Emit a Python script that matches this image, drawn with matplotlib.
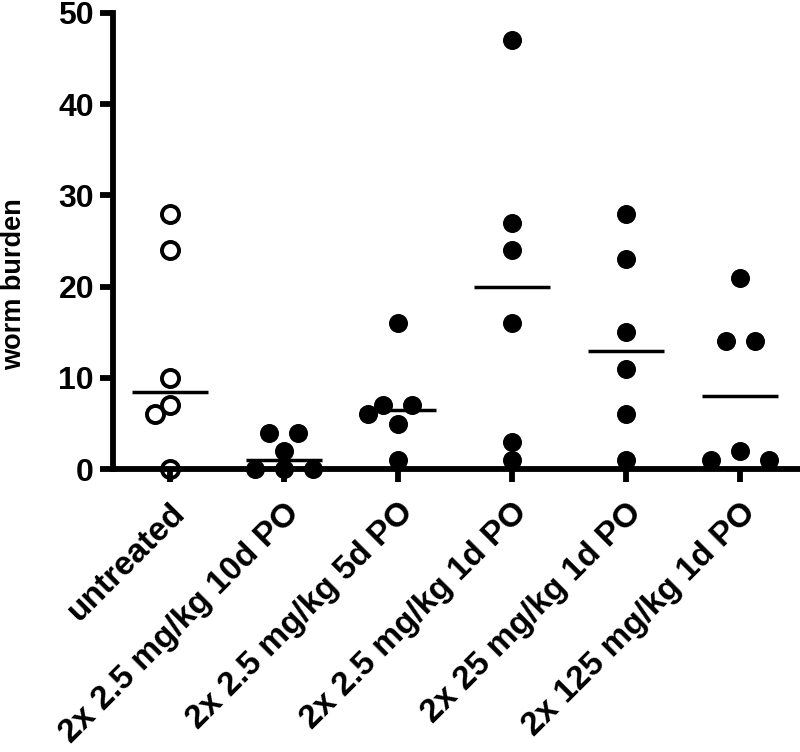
import numpy as np
import matplotlib
matplotlib.use("Agg")
import matplotlib.pyplot as plt

plt.rcParams['font.family'] = ['Liberation Sans', 'DejaVu Sans']
plt.rcParams['font.weight'] = 'bold'

groups = ['untreated', '2x 2.5 mg/kg 10d PO', '2x 2.5 mg/kg 5d PO',
          '2x 2.5 mg/kg 1d PO', '2x 25 mg/kg 1d PO', '2x 125 mg/kg 1d PO']
untreated = [28, 24, 10, 7, 6, 0]
dose_10d = [4, 4, 2, 0, 0, 0]
dose_5d = [16, 7, 7, 6, 5, 1]
dose_1d = [47, 27, 24, 16, 3, 1]
dose_25 = [28, 23, 15, 11, 6, 1]
dose_125 = [21, 14, 14, 2, 1, 1]
all_data = [untreated, dose_10d, dose_5d, dose_1d, dose_25, dose_125]
yticks = [0, 10, 20, 30, 40, 50]

fig = plt.figure(figsize=(8, 7.52), dpi=100)
ax = fig.add_axes([0.141, 0.376, 0.859, 0.607])
ax.set_xlim(-0.5, 5.526)
ax.set_ylim(0, 50)

# pixels per data unit, for the swarm layout
p0 = ax.transData.transform((0, 0))
p1 = ax.transData.transform((1, 1))
px_x = p1[0] - p0[0]
px_y = p1[1] - p0[1]


def collides(xs, y, placed, dmin):
    for x in xs:
        for (px, py) in placed:
            if np.hypot(x - px, y - py) < dmin:
                return True
    return False


def swarm(values, dmin=17.5, gap=29.0):
    # place from the top down; equal values sit in a centred row
    placed = []
    result = {}
    for v in sorted(set(values), reverse=True):
        k = values.count(v)
        y = v * px_y
        xs = None
        if k == 1:
            for step in range(0, 400):
                for s in ([0.0] if step == 0 else [-step * 0.5, step * 0.5]):
                    if not collides([s], y, placed, dmin):
                        xs = [s]
                        break
                if xs:
                    break
        else:
            g = gap
            while xs is None:
                cand = [(i - (k - 1) / 2) * g for i in range(k)]
                if not collides(cand, y, placed, dmin):
                    xs = cand
                g += gap
        placed += [(x, y) for x in xs]
        result[v] = [x / px_x for x in xs]
    offs = []
    used = {v: 0 for v in result}
    for v in values:
        offs.append(result[v][used[v]])
        used[v] += 1
    return offs


for i, vals in enumerate(all_data):
    offs = swarm(vals)
    xs = [i + o for o in offs]
    if i == 0:
        ax.plot(xs, vals, 'o', ms=12.3, mfc='none', mec='black', mew=2.8,
                clip_on=False, zorder=4)
    else:
        ax.plot(xs, vals, 'o', ms=13.7, mfc='black', mec='none',
                clip_on=False, zorder=4)
    ax.hlines(np.median(vals), i - 0.333, i + 0.333, color='black', lw=2.5, zorder=3)

for side in ['top', 'right']:
    ax.spines[side].set_visible(False)
for side in ['left', 'bottom']:
    ax.spines[side].set_linewidth(4.2)
    ax.spines[side].set_capstyle('projecting')

ax.set_yticks(yticks)
ax.set_yticklabels([str(t) for t in yticks], fontsize=23, fontweight='bold')
ax.tick_params(axis='y', length=9.5, width=4.2, pad=4)
ax.set_xticks(range(len(groups)))
ax.set_xticklabels(groups, rotation=45, ha='right', rotation_mode='anchor',
                   fontsize=24, fontweight='bold')
ax.tick_params(axis='x', length=9, width=4.2, pad=11)

ax.set_ylabel('worm burden', fontsize=19.5, fontweight='bold')
ax.yaxis.set_label_coords(-0.125, 0.405)

fig.savefig('out.png', dpi=100)
